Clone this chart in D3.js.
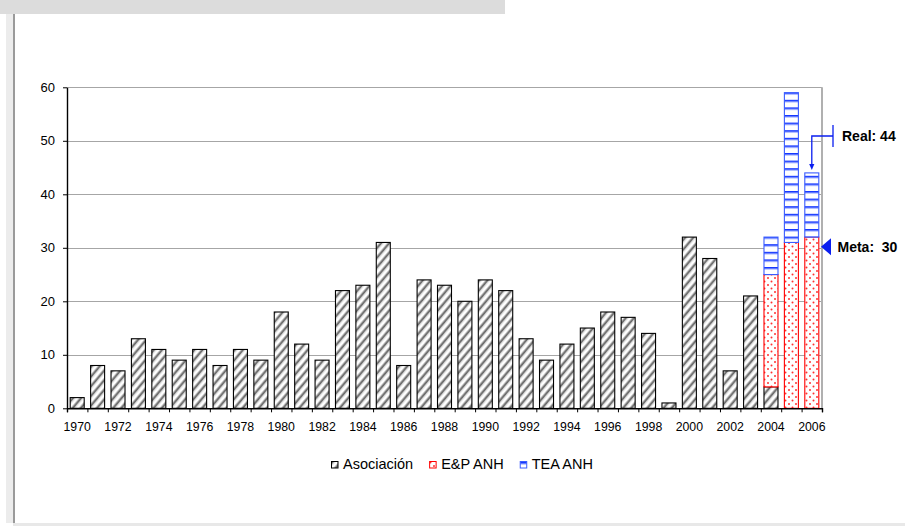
<!DOCTYPE html>
<html>
<head>
<meta charset="utf-8">
<script src="https://cdnjs.cloudflare.com/ajax/libs/d3/7.8.5/d3.min.js"></script>
<style>
  html, body { margin: 0; padding: 0; background: #fff; }
  svg { display: block; font-family: "Liberation Sans", Arial, sans-serif; }
</style>
</head>
<body>
<svg width="905" height="526"></svg>
<script>
// categories and values
const years = ["1970","1971","1972","1973","1974","1975","1976","1977","1978","1979",
               "1980","1981","1982","1983","1984","1985","1986","1987","1988","1989",
               "1990","1991","1992","1993","1994","1995","1996","1997","1998","1999",
               "2000","2001","2002","2003","2004","2005","2006"];
const asociacion = [2,8,7,13,11,9,11,8,11,9,
                    18,12,9,22,23,31,8,24,23,20,
                    24,22,13,9,12,15,18,17,14,1,
                    32,28,7,21,4,0,0];
const anhYears = ["2004","2005","2006"];
const epAnh = [21, 31, 32];
const teaAnh = [7, 28, 12];
const yTicks = [0, 10, 20, 30, 40, 50, 60];
const seriesNames = ["Asociación", "E&P ANH", "TEA ANH"];
const metaValue = 30;
const realValue = 44;

const svg = d3.select("svg");

// frame of the slide
svg.append("rect").attr("x", 0).attr("y", 0).attr("width", 505).attr("height", 14).attr("fill", "#dcdcdc");
svg.append("rect").attr("x", 6).attr("y", 14).attr("width", 7).attr("height", 509).attr("fill", "#ececec");
svg.append("rect").attr("x", 13).attr("y", 14).attr("width", 2).attr("height", 509).attr("fill", "#9a9a9a");
svg.append("rect").attr("x", 13).attr("y", 523).attr("width", 892).attr("height", 3).attr("fill", "#e8e8e8");

// patterns
const defs = svg.append("defs");
const hatch = defs.append("pattern").attr("id", "hatch")
    .attr("patternUnits", "userSpaceOnUse").attr("width", 6.2).attr("height", 6)
    .attr("patternTransform", "rotate(40)");
hatch.append("rect").attr("width", 6.2).attr("height", 6).attr("fill", "#fff");
hatch.append("rect").attr("x", 0).attr("width", 1).attr("height", 6).attr("fill", "#c8c8c8");
hatch.append("rect").attr("x", 1).attr("width", 1.8).attr("height", 6).attr("fill", "#6a6a6a");
hatch.append("rect").attr("x", 2.8).attr("width", 1).attr("height", 6).attr("fill", "#c8c8c8");

const dots = defs.append("pattern").attr("id", "dots")
    .attr("patternUnits", "userSpaceOnUse").attr("width", 7).attr("height", 7);
dots.append("rect").attr("width", 7).attr("height", 7).attr("fill", "#fff");
dots.append("circle").attr("cx", 1.5).attr("cy", 1.5).attr("r", 1).attr("fill", "#ff3030");
dots.append("circle").attr("cx", 5).attr("cy", 5).attr("r", 1).attr("fill", "#ff3030");

const hlines = defs.append("pattern").attr("id", "hlines")
    .attr("patternUnits", "userSpaceOnUse").attr("width", 10).attr("height", 7.6).attr("y", 1);
hlines.append("rect").attr("width", 10).attr("height", 7.6).attr("fill", "#fff");
hlines.append("rect").attr("y", 0).attr("width", 10).attr("height", 1.7).attr("fill", "#1436ff");
hlines.append("rect").attr("y", 1.7).attr("width", 10).attr("height", 0.9).attr("fill", "#a4b3ff");

const fills = ["url(#hatch)", "url(#dots)", "url(#hlines)"];
const strokes = ["#000", "#ff0000", "#3a5cff"];

// table for the stack
const table = years.map((y, i) => {
    const k = anhYears.indexOf(y);
    return {
        year: y,
        "Asociación": asociacion[i],
        "E&P ANH": k >= 0 ? epAnh[k] : 0,
        "TEA ANH": k >= 0 ? teaAnh[k] : 0
    };
});
const stacked = d3.stack().keys(seriesNames)(table);

const plotLeft = 67, plotRight = 822, plotTop = 87.3, plotBottom = 408.3;

const xScale = d3.scaleBand().domain(years).range([plotLeft, plotRight])
    .paddingInner(0.314).paddingOuter(0.157);
const xEdge = d3.scaleLinear().domain([0, years.length]).range([plotLeft, plotRight]);
const yScale = d3.scaleLinear().domain([0, 60]).range([plotBottom, plotTop]);

// gridlines
svg.append("g").selectAll("line").data(yTicks.filter(d => d > 0)).join("line")
    .attr("x1", plotLeft).attr("x2", plotRight)
    .attr("y1", d => Math.round(yScale(d)) + 0.5).attr("y2", d => Math.round(yScale(d)) + 0.5)
    .attr("stroke", "#a6a6a6").attr("stroke-width", 1);

// right border of the plot area
svg.append("line")
    .attr("x1", plotRight).attr("x2", plotRight)
    .attr("y1", yScale(60)).attr("y2", plotBottom)
    .attr("stroke", "#b0b0b0").attr("stroke-width", 2);

// bars
svg.append("g").selectAll("g").data(stacked).join("g")
    .attr("fill", (d, i) => fills[i])
    .attr("stroke", (d, i) => strokes[i])
    .selectAll("rect").data(d => d.filter(s => s[1] > s[0])).join("rect")
        .attr("x", d => xScale(d.data.year))
        .attr("y", d => yScale(d[1]))
        .attr("width", xScale.bandwidth())
        .attr("height", d => yScale(d[0]) - yScale(d[1]))
        .attr("stroke-width", 1.1);

// y axis
const yAxis = svg.append("g")
    .attr("transform", `translate(${plotLeft},0)`)
    .call(d3.axisLeft(yScale).tickValues(yTicks).tickSize(4).tickPadding(8).tickSizeOuter(0));
yAxis.selectAll("text").attr("font-size", 13).attr("fill", "#000").attr("font-family", null);
yAxis.select(".domain").attr("stroke", "#000").attr("stroke-width", 1.4);

// x axis: ticks at every category edge, labels every other year
const xTicks = svg.append("g")
    .attr("transform", `translate(0,${plotBottom})`)
    .call(d3.axisBottom(xEdge).tickValues(d3.range(0, years.length + 1)).tickSize(4).tickFormat(""));
xTicks.select(".domain").attr("stroke", "#000").attr("stroke-width", 1.4);

const xLabels = svg.append("g")
    .attr("transform", `translate(0,${plotBottom})`)
    .call(d3.axisBottom(xScale).tickValues(years.filter((d, i) => i % 2 === 0))
        .tickSize(0).tickPadding(13.5).tickSizeOuter(0));
xLabels.select(".domain").remove();
xLabels.selectAll("text").attr("font-size", 12.3).attr("fill", "#000").attr("font-family", null);

// annotations
const blue = "#0a1ef0";
const xEnd = plotRight;
const x2006 = xScale("2006") + xScale.bandwidth() / 2;
const yBracket = yScale(50.9);

svg.append("path")
    .attr("d", `M${xEnd + 11},${yBracket}H${x2006}V${yScale(realValue) - 8}`)
    .attr("fill", "none").attr("stroke", blue).attr("stroke-width", 1.3);
svg.append("line")
    .attr("x1", xEnd + 11).attr("x2", xEnd + 11)
    .attr("y1", yBracket - 11).attr("y2", yBracket + 11)
    .attr("stroke", blue).attr("stroke-width", 1.3);
const tip = yScale(realValue) - 3;
svg.append("path")
    .attr("d", `M${x2006},${tip}L${x2006 - 2.6},${tip - 6}L${x2006 + 2.6},${tip - 6}Z`)
    .attr("fill", blue);
svg.append("text")
    .attr("x", xEnd + 20).attr("y", yBracket + 5.5)
    .attr("font-size", 14).attr("font-weight", "bold")
    .text(`Real: ${realValue}`);

const yMeta = yScale(metaValue) - 1;
svg.append("path")
    .attr("d", `M${xEnd - 1},${yMeta}L${xEnd + 9},${yMeta - 8.5}L${xEnd + 9},${yMeta + 8.5}Z`)
    .attr("fill", blue);
svg.append("text")
    .attr("x", xEnd + 15.5).attr("y", yMeta + 5.5)
    .attr("font-size", 14).attr("font-weight", "bold")
    .style("white-space", "pre")
    .text(`Meta:  ${metaValue}`);

// legend
const legend = svg.append("g").attr("transform", "translate(331,461)");
let lx = 0;
seriesNames.forEach((name, i) => {
    legend.append("rect")
        .attr("x", lx + 0.5).attr("y", 0.5).attr("width", 6.5).attr("height", 6.5)
        .attr("fill", fills[i]).attr("stroke", strokes[i]).attr("stroke-width", 1);
    const t = legend.append("text")
        .attr("x", lx + 12).attr("y", 8)
        .attr("font-size", 14.5)
        .text(name);
    lx += 12 + t.node().getComputedTextLength() + 16;
});
</script>
</body>
</html>
